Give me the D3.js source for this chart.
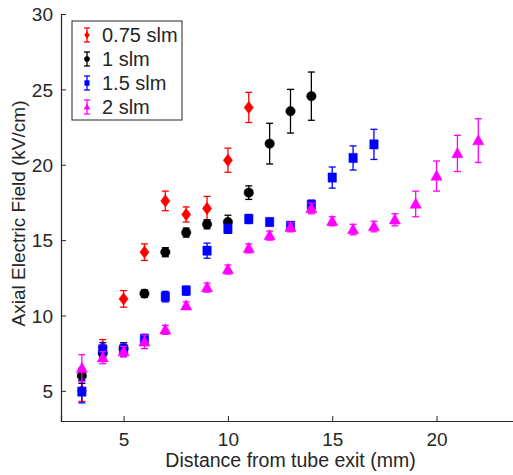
<!DOCTYPE html>
<html>
<head>
<meta charset="utf-8">
<script src="https://cdn.jsdelivr.net/npm/d3@7"></script>
<style>
  body { margin: 0; background: #fff; }
  svg { display: block; font-family: "Liberation Sans", Arial, sans-serif; }
</style>
</head>
<body>
<div class="canvas"></div>
<script>
// data
const dist075 = [3, 4, 5, 6, 7, 8, 9, 10, 11];
const field075 = [5.0, 7.9, 11.1, 14.2, 17.6, 16.7, 17.1, 20.3, 23.8];
const err075 = [0.7, 0.5, 0.55, 0.55, 0.65, 0.5, 0.8, 0.8, 1.0];

const dist1 = [3, 4, 5, 6, 7, 8, 9, 10, 11, 12, 13, 14];
const field1 = [6.0, 7.5, 7.8, 11.45, 14.2, 15.5, 16.05, 16.2, 18.15, 21.4, 23.55, 24.55];
const err1 = [0.5, 0.3, 0.3, 0.25, 0.3, 0.3, 0.3, 0.45, 0.45, 1.35, 1.45, 1.6];

const dist15 = [3, 4, 5, 6, 7, 8, 9, 10, 11, 12, 13, 14, 15, 16, 17];
const field15 = [4.95, 7.75, 7.75, 8.45, 11.25, 11.65, 14.3, 15.75, 16.4, 16.2, 15.95, 17.35, 19.15, 20.45, 21.35];
const err15 = [0.75, 0.45, 0.45, 0.3, 0.35, 0.3, 0.5, 0.3, 0.3, 0.25, 0.25, 0.3, 0.7, 0.8, 1.0];

const dist2 = [3, 4, 5, 6, 7, 8, 9, 10, 11, 12, 13, 14, 15, 16, 17, 18, 19, 20, 21, 22];
const field2 = [6.5, 7.2, 7.6, 8.25, 9.05, 10.65, 11.85, 13.05, 14.45, 15.3, 15.85, 17.1, 16.25, 15.7, 15.9, 16.35, 17.4, 19.25, 20.75, 21.6];
const err2 = [0.9, 0.4, 0.35, 0.45, 0.3, 0.25, 0.3, 0.3, 0.3, 0.3, 0.3, 0.35, 0.3, 0.35, 0.35, 0.4, 0.85, 1.0, 1.2, 1.45];

const seriesNames = ["0.75 slm", "1 slm", "1.5 slm", "2 slm"];
const seriesColors = ["#ff0000", "#000000", "#0000ff", "#ff00ff"];
const seriesMarkers = ["diamond", "circle", "square", "triangle"];

const xTicks = [5, 10, 15, 20];
const yTicks = [5, 10, 15, 20, 25, 30];

const series = [
  [dist075, field075, err075],
  [dist1, field1, err1],
  [dist15, field15, err15],
  [dist2, field2, err2],
].map((s, i) => ({
  name: seriesNames[i],
  color: seriesColors[i],
  marker: seriesMarkers[i],
  points: s[0].map((d, j) => ({ x: d, y: s[1][j], e: s[2][j] })),
}));

const width = 513;
const height = 475;
const margin = { top: 14, right: -7, bottom: 54, left: 61 };
const graphWidth = width - margin.left - margin.right;
const graphHeight = height - margin.top - margin.bottom;
const axisColor = "#262626";

const svg = d3
  .select(".canvas")
  .append("svg")
  .attr("width", width)
  .attr("height", height);

const graph = svg
  .append("g")
  .attr("transform", `translate(${margin.left},${margin.top})`);

//scales
const x = d3.scaleLinear().domain([2, 24]).range([0, graphWidth]);
const y = d3.scaleLinear().domain([3, 30]).range([graphHeight, 0]);

//axes (ticks point inward like matlab)
const xAxis = d3.axisBottom(x).tickValues(xTicks).tickSize(-5).tickPadding(8);
const yAxis = d3.axisLeft(y).tickValues(yTicks).tickSize(-5).tickPadding(8);

const xAxisGroup = graph
  .append("g")
  .attr("transform", `translate(0,${graphHeight})`)
  .call(xAxis);
const yAxisGroup = graph.append("g").call(yAxis);

[xAxisGroup, yAxisGroup].forEach((g) => {
  g.select(".domain").attr("stroke", axisColor).attr("stroke-width", 1.2);
  g.selectAll(".tick line").attr("stroke", axisColor).attr("stroke-width", 1);
  g.selectAll(".tick text")
    .attr("fill", axisColor)
    .style("font-size", "19px")
    .style("font-family", "Liberation Sans, Arial, sans-serif");
});
yAxisGroup.selectAll(".tick text").attr("dy", "0.36em");
xAxisGroup.selectAll(".tick text").attr("y", 25).attr("dy", 0);

//axis labels
svg
  .append("text")
  .attr("x", 290.5)
  .attr("y", 467)
  .attr("text-anchor", "middle")
  .attr("fill", axisColor)
  .style("font-size", "19.5px")
  .text("Distance from tube exit (mm)");

svg
  .append("text")
  .attr("transform", `translate(25,213.5) rotate(-90)`)
  .attr("text-anchor", "middle")
  .attr("fill", axisColor)
  .style("font-size", "19px")
  .text("Axial Electric Field (kV/cm)");

//marker shapes
const markerPath = (type) => {
  switch (type) {
    case "diamond":
      return "M0,-6.2L4.6,0L0,6.2L-4.6,0Z";
    case "circle":
      return d3.symbol(d3.symbolCircle, 70)();
    case "square":
      return "M-4.2,-4.6H4.2V4.6H-4.2Z";
    case "triangle":
      return "M0,-6L5.6,4.2H-5.6Z";
  }
};

//error bars and markers, each series in plotting order
series.forEach((s) => {
  const g = graph.append("g");
  const pts = g.selectAll("g").data(s.points).enter().append("g");

  pts
    .append("line")
    .attr("x1", (d) => x(d.x))
    .attr("x2", (d) => x(d.x))
    .attr("y1", (d) => y(d.y - d.e))
    .attr("y2", (d) => y(d.y + d.e))
    .attr("stroke", s.color)
    .attr("stroke-width", 1.3);

  [-1, 1].forEach((sign) => {
    pts
      .append("line")
      .attr("x1", (d) => x(d.x) - 3.5)
      .attr("x2", (d) => x(d.x) + 3.5)
      .attr("y1", (d) => y(d.y + sign * d.e))
      .attr("y2", (d) => y(d.y + sign * d.e))
      .attr("stroke", s.color)
      .attr("stroke-width", 1.3);
  });

  pts
    .append("path")
    .attr("d", markerPath(s.marker))
    .attr("transform", (d) => `translate(${x(d.x)},${y(d.y)})`)
    .attr("fill", s.color)
    .attr("stroke", s.color)
    .attr("stroke-width", 0.5);
});

//legend
const legend = svg.append("g").attr("transform", "translate(72,21)");

legend
  .append("rect")
  .attr("width", 110)
  .attr("height", 99)
  .attr("fill", "#fff")
  .attr("stroke", axisColor)
  .attr("stroke-width", 1);

const items = legend
  .selectAll(".item")
  .data(series)
  .enter()
  .append("g")
  .attr("class", "item")
  .attr("transform", (d, i) => `translate(15,${14 + i * 24})`);

items
  .append("line")
  .attr("y1", -7)
  .attr("y2", 7)
  .attr("stroke", (d) => d.color)
  .attr("stroke-width", 1.3);

[-7, 7].forEach((yy) => {
  items
    .append("line")
    .attr("x1", -3)
    .attr("x2", 3)
    .attr("y1", yy)
    .attr("y2", yy)
    .attr("stroke", (d) => d.color)
    .attr("stroke-width", 1.3);
});

items
  .append("path")
  .attr("d", (d) => markerPath(d.marker))
  .attr("transform", "scale(0.6)")
  .attr("fill", (d) => d.color);

items
  .append("text")
  .attr("x", 15)
  .attr("dy", "0.36em")
  .attr("fill", axisColor)
  .style("font-size", "20px")
  .text((d) => d.name);
</script>
</body>
</html>
